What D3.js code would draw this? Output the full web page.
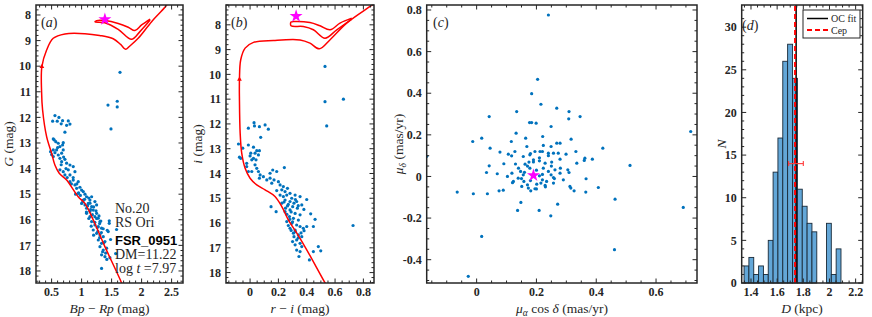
<!DOCTYPE html>
<html>
<head>
<meta charset="utf-8">
<script src="https://cdn.jsdelivr.net/npm/d3@7"></script>
<style>
body { margin: 0; background: #fff; }
svg { display: block; }
svg text { font-family: "Liberation Serif", "Times New Roman", serif; }
</style>
</head>
<body>
<script>

var width = 872,
  height = 317;

// ---- data ----
// (a) Gaia CMD: [Bp-Rp, G]
var starsA = [
  [0.556,11.93],[0.622,12.0],[0.517,12.15],[0.594,12.15],[0.683,12.13],[0.778,12.14],[0.806,12.26],[0.75,12.31],
  [0.722,12.58],[0.528,12.84],[0.544,12.88],[0.611,13.01],[0.683,13.08],[0.694,12.99],[0.639,13.14],[0.583,13.27],
  [0.528,13.27],[0.483,13.34],[0.556,13.38],[0.611,13.47],[0.667,13.4],[0.694,13.27],[0.528,13.53],[0.639,13.6],
  [0.722,13.64],[0.75,13.79],[0.667,13.73],[0.806,13.86],[0.861,13.92],[0.778,14.05],[0.694,14.12],[0.889,14.12],
  [0.639,14.05],[0.722,14.25],[0.806,14.25],[0.806,14.51],[0.861,14.45],[0.944,14.51],[0.889,14.64],[0.917,14.77],
  [0.972,14.73],[1.0,14.84],[1.028,14.9],[0.944,14.97],[1.056,15.0],[1.083,15.1],[1.167,15.1],[1.139,15.23],
  [1.028,15.23],[1.0,15.36],[1.056,15.42],[1.111,15.36],[1.222,15.29],[1.25,15.42],[1.167,15.49],[1.083,15.55],
  [1.139,15.68],[1.194,15.62],[1.25,15.75],[1.222,15.88],[1.139,15.88],[1.083,15.75],[1.278,15.94],[1.306,16.07],
  [1.167,16.07],[1.222,16.2],[1.278,16.27],[1.333,16.33],[1.194,16.4],[1.25,16.53],[1.306,16.59],[1.361,16.66],
  [1.278,16.79],[1.333,16.92],[1.389,16.85],[1.306,17.05],[1.361,17.18],[1.417,17.11],[1.333,17.37],[1.389,17.44],
  [1.444,16.46],[1.461,16.14],[1.333,17.9],[1.461,16.04],[1.428,16.41],[1.483,16.77],[1.583,16.38],[1.567,17.32],
  [1.472,17.48],[1.05,15.2],[1.1,15.45],[1.15,15.6],[1.2,15.5],[1.18,15.8],[1.25,15.95],[1.22,16.1],[1.3,16.15],
  [1.27,16.45],[1.33,16.5],[1.3,16.7],[1.37,16.9],[1.35,17.25],[1.4,17.3],[1.42,17.55],[1.12,15.95],[1.08,15.7],
  [1.16,16.25],[1.2,16.6],[0.98,15.05],[1.02,15.3],[1.12,15.15],[1.24,15.65],[1.29,15.85],[1.14,15.35],[0.92,14.6],
  [0.86,14.35],[0.95,14.95],[0.9,15.0],[1.26,16.3],[1.32,16.05],[1.36,16.35],[0.57,12.95],[0.6,13.18],[0.5,13.45],
  [0.66,13.85],[0.7,13.55],[0.76,14.35],[0.74,14.0],[0.83,14.6],[0.66,12.25],
  [1.64,10.24],[1.44,11.52],[1.594,11.37],[1.594,11.59],[1.49,12.45]
];
var isoA = [
  [1.70,18.7],[1.665,18.46],[1.388,17.05],[1.193,16.0],[1.055,15.36],[0.943,15.1],[0.75,14.45],[0.627,14.18],
  [0.555,13.86],[0.5,13.4],[0.417,12.75],[0.35,11.71],[0.333,11.0],[0.338,10.02],[0.417,9.37],[0.527,8.91],
  [0.722,8.74],[1.055,8.73],[1.3,8.8],[1.527,8.93],[1.65,9.15],[1.733,9.34],[1.8,9.22],[1.943,8.91],[2.167,8.26],
  [2.388,7.7],[2.45,7.5]
];
var isoALoop = [
  [2.143,8.16],[2.0,8.39],[1.888,8.61],[1.777,8.48],[1.61,8.33],[1.388,8.22],[1.25,8.22],[1.222,8.27],
  [1.388,8.30],[1.61,8.56],[1.833,8.95],[1.972,8.65],[2.143,8.2]
];
var cepA = [1.388, 8.17];

// (b) CMD: [r-i, i]
var starsB = [
  [0.028,11.95],[0.031,12.08],[-0.012,12.17],[0.066,12.11],[0.106,12.04],[0.129,12.21],[0.075,12.54],[-0.082,12.81],
  [-0.075,13.34],[-0.066,13.39],[-0.052,12.98],[-0.012,12.85],[0.024,12.94],[0.047,13.08],[0.066,13.08],[0.035,13.18],
  [0.005,13.18],[0.0,13.29],[0.024,13.39],[0.042,13.45],[0.012,13.45],[0.059,13.25],[-0.024,13.59],[0.035,13.65],
  [0.047,13.79],[-0.024,13.72],[-0.012,13.92],[0.012,13.92],[0.059,13.92],[0.071,14.06],[0.094,14.13],[0.066,14.19],
  [0.118,14.26],[0.141,13.99],[0.16,13.86],[0.188,13.92],[0.141,14.19],[0.169,14.26],[0.2,14.33],[0.153,14.39],
  [0.212,14.46],[0.235,14.53],[0.264,14.6],[0.282,14.8],[0.247,14.73],[0.224,14.66],[0.188,14.69],[0.148,15.34],
  [0.184,15.54],[0.242,13.76],[0.212,14.87],[0.235,14.93],[0.259,14.87],[0.294,15.0],[0.318,14.87],[0.353,14.93],
  [0.329,15.13],[0.282,15.13],[0.247,15.07],[0.224,15.2],[0.264,15.31],[0.301,15.34],[0.334,15.4],[0.365,15.27],
  [0.282,15.47],[0.247,15.54],[0.318,15.61],[0.353,15.67],[0.278,15.74],[0.306,15.81],[0.341,15.88],[0.259,15.94],
  [0.294,16.01],[0.329,16.08],[0.282,16.21],[0.318,16.28],[0.353,16.14],[0.376,16.21],[0.306,16.41],[0.341,16.48],
  [0.365,16.55],[0.329,16.68],[0.353,16.82],[0.318,16.88],[0.365,16.95],[0.329,17.09],[0.353,17.15],[0.4,16.14],
  [0.381,16.31],[0.428,15.63],[0.447,16.14],[0.459,15.85],[0.482,16.95],[0.499,17.12],[0.447,17.15],[0.419,17.49],
  [0.27,15.25],[0.29,15.55],[0.31,15.2],[0.26,15.65],[0.3,15.95],[0.27,16.1],[0.32,16.35],[0.29,16.3],[0.34,16.6],
  [0.31,16.55],[0.36,16.4],[0.25,15.4],[0.32,15.05],[0.28,15.85],[0.34,15.3],[0.3,16.75],[0.24,15.15],[0.38,15.45],
  [0.4,15.05],[0.345,17.35],
  [0.529,9.68],[0.529,11.1],[0.659,11.0],[0.541,12.08],[0.727,16.1]
];
var isoB = [
  [0.55,18.6],[0.53,18.42],[0.4,17.08],[0.33,16.41],[0.27,15.87],[0.224,15.34],[0.176,14.93],[0.106,14.66],
  [0.047,14.46],[0.0,14.19],[-0.035,13.79],[-0.059,13.18],[-0.07,12.37],[-0.075,11.03],[-0.075,10.22],[-0.066,9.41],
  [-0.035,8.94],[0.024,8.71],[0.165,8.63],[0.353,8.61],[0.423,8.74],[0.489,8.97],[0.565,8.6],[0.682,7.93],
  [0.847,7.26],[0.9,7.05]
];
var isoBLoop = [
  [0.718,7.73],[0.635,7.93],[0.565,8.2],[0.494,8.04],[0.423,7.91],[0.306,7.87],[0.289,7.89],[0.289,8.04],
  [0.376,8.07],[0.447,8.2],[0.529,8.54],[0.612,8.2],[0.718,7.77]
];
var cepB = [0.325, 7.65];

// (c) proper motions: [pmra cos dec, pmdec]
var starsC = [
  [0.240,0.776],[0.204,0.467],[0.184,0.398],[0.215,0.347],[0.134,0.312],[0.042,0.288],[0.268,0.328],[0.309,0.312],
  [0.346,0.288],[0.308,0.277],[0.177,0.259],[0.184,0.259],[0.199,0.256],[0.249,0.24],[0.132,0.208],[0.221,0.192],
  [0.017,0.184],[-0.013,0.168],[0.116,0.168],[0.164,0.184],[0.316,0.179],[0.045,0.136],[0.168,0.144],[0.268,0.16],
  [0.279,0.16],[0.249,0.144],[0.422,0.136],[0.078,0.117],[-0.167,0.097],[0.128,0.12],[0.117,0.099],[0.106,0.107],
  [0.156,0.096],[0.178,0.104],[0.195,0.12],[0.223,0.149],[0.212,0.12],[0.240,0.112],[0.257,0.112],[0.273,0.112],
  [0.299,0.107],[0.332,0.12],[0.362,0.088],[0.36,0.077],[0.387,0.083],[0.279,0.083],[0.251,0.069],[0.335,0.064],
  [0.042,0.051],[0.091,0.061],[0.162,0.059],[0.175,0.069],[0.19,0.08],[0.21,0.075],[0.229,0.064],[0.513,0.053],
  [0.716,0.216],[0.033,0.019],[0.069,0.013],[0.103,0.0],[0.118,0.016],[0.147,0.024],[0.156,0.008],[0.139,-0.008],
  [0.158,-0.024],[0.178,0.04],[0.223,0.04],[0.24,0.024],[0.249,0.008],[0.262,0.032],[0.279,0.016],[0.305,0.032],
  [0.309,0.019],[0.21,0.003],[0.22,-0.016],[0.234,-0.024],[0.257,-0.005],[0.29,-0.016],[0.123,-0.024],[0.151,-0.048],
  [0.173,-0.056],[0.201,-0.037],[0.215,-0.032],[0.229,-0.043],[0.257,-0.032],[0.312,-0.048],[0.315,-0.056],
  [0.366,-0.011],[0.407,-0.053],[-0.065,-0.075],[-0.011,-0.083],[0.036,-0.083],[0.075,-0.069],[0.089,-0.066],
  [0.326,-0.069],[0.365,-0.075],[0.181,-0.069],[0.195,-0.059],[0.463,-0.109],[0.148,-0.125],[0.271,-0.133],
  [0.137,-0.163],[0.209,-0.163],[0.248,-0.189],[0.691,-0.149],[0.017,-0.288],[0.461,-0.352],[-0.028,-0.48],
  [0.17,0.05],[0.2,0.03],[0.22,0.01],[0.18,-0.02],[0.16,0.02],[0.23,-0.05],[0.25,0.05],[0.21,0.09],[0.19,0.07],
  [0.14,0.04],[0.24,0.1],[0.17,-0.04],[0.2,-0.06],[0.26,-0.01],[0.15,-0.01],[0.13,0.06],[0.22,0.12],[0.18,0.11],
  [0.28,0.04],[0.12,-0.03]
];
var cepC = [0.19, 0.005];

// (d) distance histogram
var distEdges = [1.347,1.384,1.421,1.458,1.495,1.532,1.569,1.606,1.643,1.680,1.718,
  1.755,1.792,1.829,1.866,1.903,1.940,1.977,2.014,2.051,2.088];
var distCounts = [2,3,1,2,1,5,13,17,26,28,24,11,9,7,6,0,0,7,1,4];
var ocFitD = 1.745;
var cepD = 1.737, cepDErr = [1.688, 1.800], cepDN = 14;

// ---- drawing ----
var ink = "#262626";
var dotColor = "#0072bd";
var isoColor = "#ff0000";
var starColor = "#ff00ff";
var serif = "Liberation Serif, Times New Roman, serif";

var svg = d3.select("body").append("svg")
  .attr("width", width)
  .attr("height", height)
  .attr("font-family", serif);

function axesBox(g, x, y, o) {
  var xl = x.range()[0], xr = x.range()[1], yb = y.range()[0], yt = y.range()[1];
  var xd = x.domain(), yd = y.domain();
  var tk = g.append("g").attr("stroke", ink).attr("stroke-width", 1);

  function minors(d, step, major) {
    var lo = Math.min(d[0], d[1]), hi = Math.max(d[0], d[1]), out = [];
    for (var k = Math.ceil(lo / step - 1e-9); k * step <= hi + 1e-9; k++) {
      var v = k * step;
      if (!major.some(function(m){ return Math.abs(m - v) < step / 10; })) out.push(v);
    }
    return out;
  }
  function xtick(v, len) {
    tk.append("line").attr("x1", x(v)).attr("x2", x(v)).attr("y1", yb).attr("y2", yb - len);
    tk.append("line").attr("x1", x(v)).attr("x2", x(v)).attr("y1", yt).attr("y2", yt + len);
  }
  function ytick(v, len) {
    tk.append("line").attr("y1", y(v)).attr("y2", y(v)).attr("x1", xl).attr("x2", xl + len);
    tk.append("line").attr("y1", y(v)).attr("y2", y(v)).attr("x1", xr).attr("x2", xr - len);
  }
  o.xMajor.forEach(function(v){ xtick(v, 4.5); });
  o.yMajor.forEach(function(v){ ytick(v, 4.5); });
  minors(xd, o.xMinor, o.xMajor).forEach(function(v){ xtick(v, 2.5); });
  minors(yd, o.yMinor, o.yMajor).forEach(function(v){ ytick(v, 2.5); });

  g.append("rect")
    .attr("x", xl).attr("y", yt)
    .attr("width", xr - xl).attr("height", yb - yt)
    .attr("fill", "none").attr("stroke", ink).attr("stroke-width", 1.5);

  g.selectAll(".xt").data(o.xMajor).enter().append("text")
    .attr("x", function(d){ return x(d); })
    .attr("y", 296)
    .attr("text-anchor", "middle")
    .attr("font-size", 12).attr("font-weight", "bold").attr("fill", ink)
    .text(function(d){ return String(d); });
  g.selectAll(".yt").data(o.yMajor).enter().append("text")
    .attr("x", xl - 5)
    .attr("y", function(d){ return y(d) + 4.2; })
    .attr("text-anchor", "end")
    .attr("font-size", 12).attr("font-weight", "bold").attr("fill", ink)
    .text(function(d){ return String(d); });
}

function panelTag(g, px, py, letter) {
  var t = g.append("text").attr("x", px).attr("y", py).attr("font-size", 14).attr("fill", ink);
  t.append("tspan").text("(");
  t.append("tspan").attr("font-style", "italic").text(letter);
  t.append("tspan").text(")");
}

function clip(id, x, y) {
  svg.append("clipPath").attr("id", id).append("rect")
    .attr("x", x.range()[0]).attr("y", y.range()[1])
    .attr("width", x.range()[1] - x.range()[0])
    .attr("height", y.range()[0] - y.range()[1]);
}

var star = d3.symbol().type(d3.symbolStar).size(52);

function cmdPanel(id, x, y, stars, iso, loop, cep, arrow) {
  clip(id, x, y);
  var g = svg.append("g");
  var inner = g.append("g").attr("clip-path", "url(#" + id + ")");
  var line = d3.line()
    .x(function(d){ return x(d[0]); })
    .y(function(d){ return y(d[1]); })
    .curve(d3.curveCatmullRom.alpha(0.5));

  inner.selectAll("circle").data(stars).enter().append("circle")
    .attr("cx", function(d){ return x(d[0]); })
    .attr("cy", function(d){ return y(d[1]); })
    .attr("r", 1.6)
    .attr("fill", dotColor);
  inner.append("path").attr("d", line(iso))
    .attr("fill", "none").attr("stroke", isoColor).attr("stroke-width", 1.5);
  inner.append("path").attr("d", line(loop))
    .attr("fill", "none").attr("stroke", isoColor).attr("stroke-width", 1.5);
  inner.append("path").attr("d", d3.symbol().type(d3.symbolTriangle).size(10)())
    .attr("transform", "translate(" + x(arrow[0]) + "," + y(arrow[1]) + ")")
    .attr("fill", isoColor);
  inner.append("path").attr("d", star())
    .attr("transform", "translate(" + x(cep[0]) + "," + y(cep[1]) + ")")
    .attr("fill", starColor);
  return g;
}

function xLabel(g, cx) {
  return g.append("text").attr("x", cx).attr("y", 312.5).attr("text-anchor", "middle")
    .attr("font-size", 13.5).attr("fill", ink);
}
function yLabel(g, bx) {
  return g.append("text").attr("transform", "translate(" + bx + ",144) rotate(-90)")
    .attr("text-anchor", "middle").attr("font-size", 13.5).attr("fill", ink);
}

// ---- panel (a) ----
var xA = d3.scaleLinear().domain([0.24, 2.69]).range([36, 183]);
var yA = d3.scaleLinear().domain([18.47, 7.61]).range([283, 5]);
var gA = cmdPanel("clipA", xA, yA, starsA, isoA, isoALoop, cepA, [0.338, 10.02]);
axesBox(gA, xA, yA, {xMajor: [0.5, 1, 1.5, 2, 2.5], yMajor: [8,9,10,11,12,13,14,15,16,17,18], xMinor: 0.1, yMinor: 0.2});
panelTag(gA, 41, 27, "a");

var info = gA.append("g").attr("font-size", 14).attr("fill", ink);
info.append("text").attr("x", 115).attr("y", 213).text("No.20");
info.append("text").attr("x", 115).attr("y", 227).text("RS Ori");
info.append("text").attr("x", 115).attr("y", 245)
  .style("font-family", "Liberation Sans, Arial, sans-serif").attr("font-weight", "bold")
  .attr("font-size", 13).attr("fill", "#000").text("FSR_0951");
info.append("text").attr("x", 115).attr("y", 259).text("DM=11.22");
var lt = info.append("text").attr("x", 115).attr("y", 273);
lt.append("tspan").text("log ");
lt.append("tspan").attr("font-style", "italic").text("t");
lt.append("tspan").text(" =7.97");

var xlA = xLabel(gA, 109.5);
xlA.append("tspan").attr("font-style", "italic").text("Bp");
xlA.append("tspan").text(" \u2212 ");
xlA.append("tspan").attr("font-style", "italic").text("Rp");
xlA.append("tspan").text(" (mag)");
var ylA = yLabel(gA, 13);
ylA.append("tspan").attr("font-style", "italic").text("G");
ylA.append("tspan").text(" (mag)");

// ---- panel (b) ----
var xB = d3.scaleLinear().domain([-0.17, 0.875]).range([226, 374]);
var yB = d3.scaleLinear().domain([18.42, 7.2]).range([283, 5]);
var gB = cmdPanel("clipB", xB, yB, starsB, isoB, isoBLoop, cepB, [-0.075, 10.2]);
axesBox(gB, xB, yB, {xMajor: [0, 0.2, 0.4, 0.6, 0.8], yMajor: [8,9,10,11,12,13,14,15,16,17,18], xMinor: 0.05, yMinor: 0.2});
panelTag(gB, 231, 27, "b");

var xlB = xLabel(gB, 300);
xlB.append("tspan").attr("font-style", "italic").text("r");
xlB.append("tspan").text(" \u2212 ");
xlB.append("tspan").attr("font-style", "italic").text("i");
xlB.append("tspan").text(" (mag)");
var ylB = yLabel(gB, 202);
ylB.append("tspan").attr("font-style", "italic").text("i");
ylB.append("tspan").text(" (mag)");

// ---- panel (c) ----
var xC = d3.scaleLinear().domain([-0.167, 0.737]).range([426.7, 697]);
var yC = d3.scaleLinear().domain([-0.512, 0.824]).range([283, 5]);
clip("clipC", xC, yC);
var gC = svg.append("g");
var innerC = gC.append("g").attr("clip-path", "url(#clipC)");
innerC.selectAll("circle").data(starsC).enter().append("circle")
  .attr("cx", function(d){ return xC(d[0]); })
  .attr("cy", function(d){ return yC(d[1]); })
  .attr("r", 1.6)
  .attr("fill", dotColor);
innerC.append("path").attr("d", star())
  .attr("transform", "translate(" + xC(cepC[0]) + "," + yC(cepC[1]) + ")")
  .attr("fill", starColor);
axesBox(gC, xC, yC, {xMajor: [0, 0.2, 0.4, 0.6], yMajor: [-0.4, -0.2, 0, 0.2, 0.4, 0.6, 0.8], xMinor: 0.05, yMinor: 0.05});
panelTag(gC, 433, 27, "c");

var xlC = xLabel(gC, 562);
xlC.append("tspan").attr("font-style", "italic").text("\u03bc");
xlC.append("tspan").attr("font-style", "italic").attr("font-size", 9.5).attr("dy", 3).text("\u03b1");
xlC.append("tspan").attr("dy", -3).text(" cos ");
xlC.append("tspan").attr("font-style", "italic").text("\u03b4");
xlC.append("tspan").text(" (mas/yr)");
var ylC = yLabel(gC, 403);
ylC.append("tspan").attr("font-style", "italic").text("\u03bc");
ylC.append("tspan").attr("font-style", "italic").attr("font-size", 9.5).attr("dy", 3).text("\u03b4");
ylC.append("tspan").attr("dy", -3).text(" (mas/yr)");

// ---- panel (d) ----
var xD = d3.scaleLinear().domain([1.329, 2.254]).range([741.7, 862.7]);
var yD = d3.scaleLinear().domain([0, 32.6]).range([283, 5]);
var gD = svg.append("g");
var bins = distCounts.map(function(c, i){ return {x0: distEdges[i], x1: distEdges[i + 1], n: c}; });
gD.selectAll("rect.bar").data(bins.filter(function(b){ return b.n > 0; })).enter().append("rect")
  .attr("class", "bar")
  .attr("x", function(d){ return xD(d.x0); })
  .attr("y", function(d){ return yD(d.n); })
  .attr("width", function(d){ return xD(d.x1) - xD(d.x0); })
  .attr("height", function(d){ return yD(0) - yD(d.n); })
  .attr("fill", "#63a7d8")
  .attr("stroke", "#1a2a38")
  .attr("stroke-width", 0.9);

gD.append("line")
  .attr("x1", xD(ocFitD)).attr("x2", xD(ocFitD)).attr("y1", yD.range()[0]).attr("y2", yD.range()[1])
  .attr("stroke", "#000").attr("stroke-width", 1.5);
gD.append("line")
  .attr("x1", xD(cepD)).attr("x2", xD(cepD)).attr("y1", yD.range()[0]).attr("y2", yD.range()[1])
  .attr("stroke", "#ff0000").attr("stroke-width", 2).attr("stroke-dasharray", "5,3");
var eb = gD.append("g").attr("stroke", "#ff3b3b").attr("stroke-width", 1.1);
eb.append("line").attr("x1", xD(cepDErr[0])).attr("x2", xD(cepDErr[1])).attr("y1", yD(cepDN)).attr("y2", yD(cepDN));
cepDErr.forEach(function(v){
  eb.append("line").attr("x1", xD(v)).attr("x2", xD(v)).attr("y1", yD(cepDN) - 2.5).attr("y2", yD(cepDN) + 2.5);
});

axesBox(gD, xD, yD, {xMajor: [1.4, 1.6, 1.8, 2, 2.2], yMajor: [0, 5, 10, 15, 20, 25, 30], xMinor: 0.05, yMinor: 1});
panelTag(gD, 742, 30, "d");

var leg = gD.append("g");
leg.append("rect").attr("x", 803).attr("y", 10).attr("width", 57).attr("height", 28)
  .attr("fill", "#fff").attr("stroke", ink).attr("stroke-width", 1);
leg.append("line").attr("x1", 807).attr("x2", 828).attr("y1", 18.5).attr("y2", 18.5)
  .attr("stroke", "#000").attr("stroke-width", 1.5);
leg.append("line").attr("x1", 807).attr("x2", 828).attr("y1", 30).attr("y2", 30)
  .attr("stroke", "#ff0000").attr("stroke-width", 2).attr("stroke-dasharray", "5,3");
leg.append("text").attr("x", 831).attr("y", 22).attr("font-size", 10).attr("fill", ink).text("OC fit");
leg.append("text").attr("x", 831).attr("y", 33.5).attr("font-size", 10).attr("fill", ink).text("Cep");

var xlD = xLabel(gD, 802);
xlD.append("tspan").attr("font-style", "italic").text("D");
xlD.append("tspan").text(" (kpc)");
yLabel(gD, 726).attr("font-style", "italic").text("N");

</script>
</body>
</html>
